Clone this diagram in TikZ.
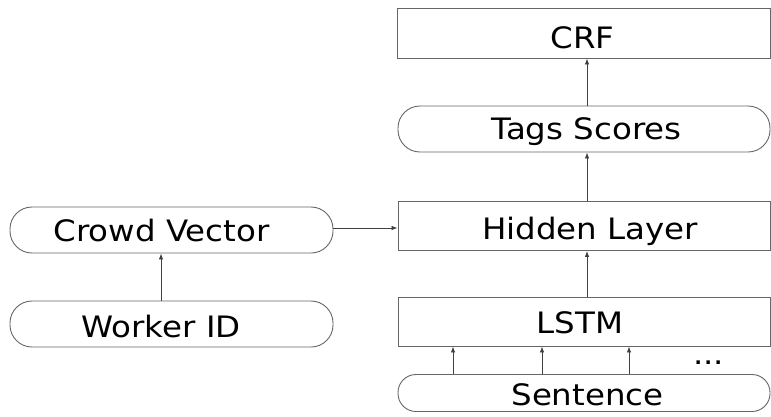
\documentclass[tikz,border=0pt]{standalone}
\usepackage{fontspec}
\setmainfont{DejaVu Sans}[FakeStretch=1.1]
\usetikzlibrary{arrows.meta}
\newcommand{\shR}[1]{\hspace*{#1}}
\begin{document}
\begin{tikzpicture}[x=1pt,y=-1pt,
  box/.style={draw=black!60,line width=0.9pt,inner sep=0pt,text depth=0pt,text height=24pt,font=\fontsize{29.5}{36}\selectfont},
  rbox/.style={box,rounded corners=22pt},
  arr/.style={draw=black!75,line width=0.8pt,-{Latex[length=6pt,width=4.5pt]}}]
\useasboundingbox (0,0) rectangle (771,416);
\node[box,text height=30pt,minimum width=373pt,minimum height=50pt] (crf) at (583.5,33) {CRF\shR{2pt}};
\node[rbox,text height=20pt,minimum width=372pt,minimum height=46pt] (tags) at (584,129) {\shR{5pt}Tags Scores};
\node[box,text height=26pt,minimum width=372pt,minimum height=49pt] (hid) at (584,226) {\shR{12pt}Hidden Layer};
\node[box,text height=23pt,minimum width=372pt,minimum height=49pt] (lstm) at (584,321.5) {LSTM\shR{8pt}};
\node[rbox,rounded corners=18pt,minimum width=372pt,minimum height=37pt] (sent) at (584,393) {\shR{7pt}Sentence};
\node[rbox,text height=22pt,minimum width=323pt,minimum height=46pt] (crowd) at (171.5,230) {Crowd Vector\shR{20pt}};
\node[rbox,text height=26pt,minimum width=323pt,minimum height=46pt] (worker) at (171.5,324) {Worker ID\shR{21pt}};
\node[font=\fontsize{29.5}{36}\selectfont,inner sep=0pt,anchor=base] (dots) at (708.5,364) {...};
\coordinate (c1) at (587,0);
\draw[arr] (tags.north -| c1) -- (crf.south -| c1);
\draw[arr] (hid.north -| c1) -- (tags.south -| c1);
\draw[arr] (lstm.north -| c1) -- (hid.south -| c1);
\coordinate (h) at (0,228);
\draw[arr] (crowd.east |- h) -- (hid.west |- h);
\coordinate (w) at (161,0);
\draw[arr] (worker.north -| w) -- (crowd.south -| w);
\foreach \x/\n in {453/a,542/b,629/c}{
  \coordinate (s\n) at (\x,0);
  \draw[arr] (sent.north -| s\n) -- (lstm.south -| s\n);
}
\end{tikzpicture}
\end{document}
